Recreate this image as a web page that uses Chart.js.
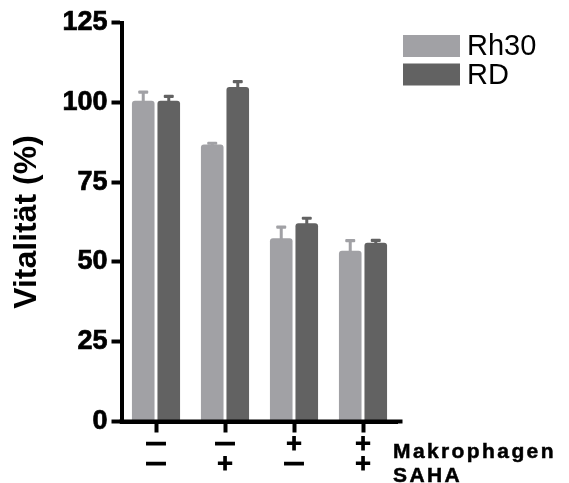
<!DOCTYPE html>
<html>
<head>
<meta charset="utf-8">
<script src="https://cdn.jsdelivr.net/npm/chart.js@4.4.1/dist/chart.umd.min.js"></script>
<style>
  html, body { margin: 0; padding: 0; background: #fff; }
  #wrap { width: 569px; height: 483px; position: relative; }
</style>
</head>
<body>
<div id="wrap"><canvas id="chart"></canvas></div>
<script>
// Vitalität je Behandlung: Rh30 vs. RD, mit Makrophagen / SAHA (+/–)
const makrophagen = ['—', '—', '+', '+'];
const saha = ['—', '+', '—', '+'];
const rowTitles = ['Makrophagen', 'SAHA'];

const rh30 = [100.5, 86.8, 57.4, 53.5];
const rh30Err = [2.7, 0.4, 3.5, 3.2];
const rd = [100.5, 104.8, 62.1, 56.0];
const rdErr = [1.4, 1.7, 1.6, 0.8];

const yTicks = [0, 25, 50, 75, 100, 125];

const FONT = '"Liberation Sans", Arial, sans-serif';
const GREY_LIGHT = '#a1a1a5';
const GREY_DARK = '#626262';

const labels = makrophagen.map((m, i) => [m, saha[i]]);

// Fehlerbalken (nur nach oben), Legende und Zeilentitel unter der x-Achse
const extras = {
  id: 'extras',
  afterDatasetsDraw(chart) {
    const { ctx, scales: { y } } = chart;
    chart.data.datasets.forEach((ds, di) => {
      const meta = chart.getDatasetMeta(di);
      ctx.save();
      ctx.fillStyle = ds.backgroundColor;
      meta.data.forEach((bar, i) => {
        const top = y.getPixelForValue(ds.data[i] + ds.errors[i]);
        const base = y.getPixelForValue(ds.data[i]);
        ctx.fillRect(bar.x - 1.5, top, 3, base - top + 2);
        ctx.beginPath();
        ctx.roundRect(bar.x - 5, top - 1.5, 10, 3.2, 1);
        ctx.fill();
      });
      ctx.restore();
    });
  },
  afterDraw(chart) {
    const { ctx, chartArea } = chart;
    ctx.save();
    // x-Achse etwas über den Plotbereich hinaus verlängern
    ctx.fillStyle = '#000';
    ctx.fillRect(119.5, chartArea.bottom - 2, chartArea.right - 119.5 + 5, 4);
    // Legende
    chart.data.datasets.forEach((ds, i) => {
      const y0 = 35 + i * 28.5;
      ctx.fillStyle = ds.backgroundColor;
      ctx.fillRect(403, y0, 57, 22);
      ctx.fillStyle = '#000';
      ctx.font = '29px ' + FONT;
      ctx.textBaseline = 'middle';
      ctx.textAlign = 'left';
      ctx.fillText(ds.label, 467, y0 + 12);
    });
    // Zeilentitel
    ctx.font = 'bold 21px ' + FONT;
    ctx.textBaseline = 'alphabetic';
    ctx.letterSpacing = '2.4px';
    ctx.strokeStyle = '#000';
    ctx.lineWidth = 0.5;
    rowTitles.forEach((t, i) => {
      ctx.fillText(t, 393, 458 + i * 24);
      ctx.strokeText(t, 393, 458 + i * 24);
    });
    ctx.restore();
  }
};

new Chart(document.getElementById('chart'), {
  type: 'bar',
  data: {
    labels,
    datasets: [
      { label: 'Rh30', data: rh30, errors: rh30Err, backgroundColor: GREY_LIGHT,
        borderRadius: { topLeft: 3, topRight: 3 } },
      { label: 'RD', data: rd, errors: rdErr, backgroundColor: GREY_DARK,
        borderRadius: { topLeft: 3, topRight: 3 } },
    ],
  },
  options: {
    responsive: true,
    maintainAspectRatio: false,
    animation: false,
    categoryPercentage: 0.74,
    barPercentage: 0.885,
    layout: { padding: { top: 22.5, right: 171.5, left: 0, bottom: 0 } },
    plugins: { legend: { display: false }, tooltip: { enabled: false } },
    scales: {
      x: {
        offset: true,
        grid: { drawOnChartArea: false, offset: false, tickLength: 11, tickWidth: 4, tickColor: '#000' },
        border: { color: '#000', width: 4 },
        ticks: {
          color: '#000', padding: 2, maxRotation: 0, autoSkip: false,
          font: { family: '"DejaVu Sans", sans-serif', size: 21, weight: 'bold', lineHeight: '20px' },
          textStrokeColor: '#000', textStrokeWidth: 1.2,
        },
        afterFit: (s) => { s.height = 61.5; },
      },
      y: {
        min: 0, max: 125,
        afterBuildTicks: (s) => { s.ticks = yTicks.map(v => ({ value: v })); },
        grid: { drawOnChartArea: false, tickLength: 10, tickWidth: 4, tickColor: '#000' },
        border: { color: '#000', width: 4 },
        ticks: {
          color: '#000', padding: 4,
          font: { family: FONT, size: 27, weight: 'bold' },
          textStrokeColor: '#000', textStrokeWidth: 0.7,
        },
        title: {
          display: true, text: 'Vitalität (%)', color: '#000',
          font: { family: FONT, size: 32, weight: 'bold' },
          padding: { top: 8, bottom: 0 },
        },
        afterFit: (s) => { s.width = 121.5; },
      },
    },
  },
  plugins: [extras],
});
</script>
</body>
</html>
